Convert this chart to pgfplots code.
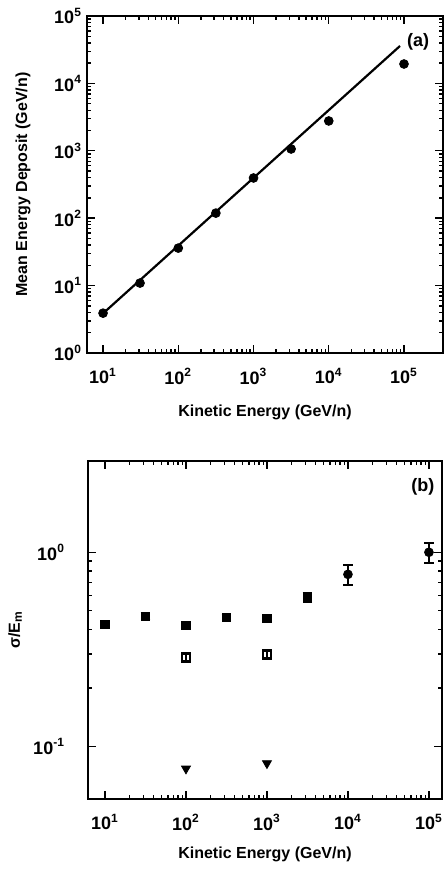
\documentclass[border=0pt]{standalone}
\usepackage{pgfplots}
\pgfplotsset{compat=1.18}
\usepackage{fontspec}
\setmainfont{Liberation Sans}

\begin{document}
\begin{tikzpicture}
\useasboundingbox (0,0) rectangle (222pt,436pt);

% (a) mean energy deposit
\begin{axis}[
  scale only axis, xmode=log, ymode=log,
  at={(43.5pt,259.5pt)}, anchor=south west,
  width=178pt, height=168.5pt,
  xmin=6.12, xmax=3.3e5, ymin=1, ymax=1e5,
  axis line style={line width=1.3pt},
  tick style={line width=0.7pt, black},
  major tick length=4pt, minor tick length=2pt,
  tick align=inside,
  tick label style={font=\bfseries\fontsize{9}{10}\selectfont},
  label style={font=\bfseries\fontsize{8}{9}\selectfont},
  xtick={10,100,1000,10000,100000},
  xticklabels={10\textsuperscript{1},10\textsuperscript{2},10\textsuperscript{3},10\textsuperscript{4},10\textsuperscript{5}},
  ytick={1,10,100,1000,10000,100000},
  yticklabels={10\textsuperscript{0},10\textsuperscript{1},10\textsuperscript{2},10\textsuperscript{3},10\textsuperscript{4},10\textsuperscript{5}},
  xlabel={Kinetic Energy (GeV/n)},
  ylabel={Mean Energy Deposit (GeV/n)},
  xlabel style={at={(axis description cs:0.5,-0.175)}, anchor=center},
  ylabel style={at={(axis description cs:-0.18,0.5)}, anchor=center},
  yticklabel style={xshift=1pt},
  xticklabel style={yshift=-4pt},
  clip=false,
]
\addplot[black, line width=1.1pt] coordinates {(9.7,3.75) (88500,35900)};
\addplot[only marks, black, mark=*, mark size=2.2pt] coordinates {
(10,3.9) (31,10.9) (100,36) (316,119) (1000,395) (3160,1064) (10000,2770) (100000,19400)
};
\node[font=\bfseries\fontsize{9}{10}\selectfont] at (axis description cs:0.93,0.923) {(a)};
\end{axis}

% (b) relative width
\begin{axis}[
  scale only axis, xmode=log, ymode=log,
  at={(44pt,36.5pt)}, anchor=south west,
  width=177pt, height=169pt,
  xmin=6.17, xmax=1.45e5, ymin=0.0537, ymax=2.95,
  axis line style={line width=1.3pt},
  tick style={line width=0.7pt, black},
  major tick length=4pt, minor tick length=2pt,
  tick align=inside,
  tick label style={font=\bfseries\fontsize{9}{10}\selectfont},
  label style={font=\bfseries\fontsize{8}{9}\selectfont},
  xtick={10,100,1000,10000,100000},
  xticklabels={10\textsuperscript{1},10\textsuperscript{2},10\textsuperscript{3},10\textsuperscript{4},10\textsuperscript{5}},
  ytick={0.1,1},
  yticklabels={10\textsuperscript{-1},10\textsuperscript{0}},
  xlabel={Kinetic Energy (GeV/n)},
  ylabel={σ/E\textsubscript{m}},
  xlabel style={at={(axis description cs:0.5,-0.165)}, anchor=center},
  ylabel style={at={(axis description cs:-0.206,0.5)}, anchor=center},
  yticklabel style={xshift=-8pt},
  xticklabel style={yshift=-4pt},
  clip=false,
]
\addplot[only marks, black, mark=square*, mark size=2.2pt,
  error bars/.cd, y dir=both, y explicit,
  error bar style={line width=0.9pt},
  error mark options={rotate=90, mark size=2.4pt, line width=1pt}] coordinates {
(10,0.425) +- (0,0.015)
(31.6,0.468) +- (0,0.017)
(100,0.42) +- (0,0.016)
(316,0.462) +- (0,0.015)
(1000,0.457) +- (0,0.017)
(3160,0.586) +- (0,0.03)
};
\addplot[only marks, black, mark=*, mark size=2.2pt,
  error bars/.cd, y dir=both, y explicit,
  error bar style={line width=0.9pt},
  error mark options={rotate=90, mark size=2.4pt, line width=1pt}] coordinates {
(10000,0.77) += (0,0.087) -= (0,0.094)
(100000,1.0) += (0,0.11) -= (0,0.123)
};
\addplot[only marks, black, mark=square, mark size=2pt, mark options={line width=1.2pt},
  error bars/.cd, y dir=both, y explicit,
  error bar style={line width=0.9pt},
  error mark options={rotate=90, mark size=2.4pt, line width=1pt}] coordinates {
(100,0.288) +- (0,0.012)
(1000,0.298) +- (0,0.012)
};
\addplot[only marks, black, mark=triangle*, mark size=2.6pt, mark options={rotate=180}] coordinates {
(100,0.077) (1000,0.082)
};
\node[font=\bfseries\fontsize{9}{10}\selectfont] at (axis description cs:0.946,0.923) {(b)};
\end{axis}
\end{tikzpicture}
\end{document}
